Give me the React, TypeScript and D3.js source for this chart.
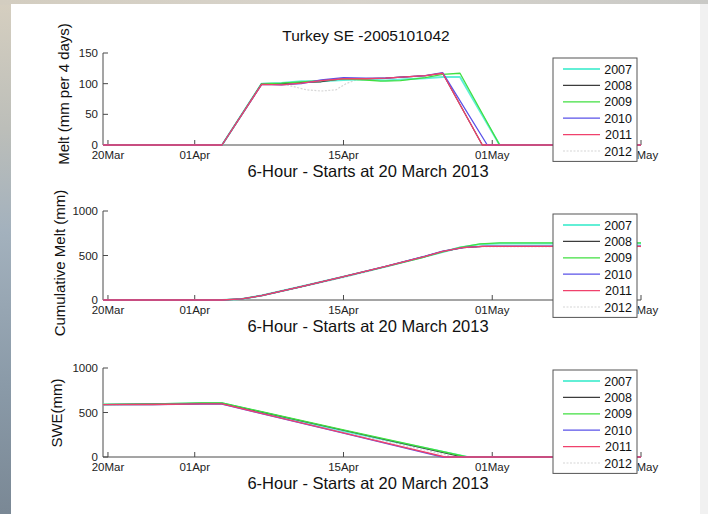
import React from "react";
import * as d3 from "d3";

// Series identity
const YEARS = ["2007", "2008", "2009", "2010", "2011", "2012"];
const COLORS = ["#62efd6", "#3c3c3c", "#40df40", "#5a52e8", "#f0416c", "#d6d6d6"];
const WIDTHS = [2, 1.1, 1.3, 1.3, 1.3, 1.2];
// 2012 is drawn first so it sits underneath the other years
const DRAW_ORDER = [5, 0, 1, 2, 3, 4];

// X axis: 6-hour steps from the start of the run
const X_DOMAIN = [0, 217];
const X_TICKS = [2, 37, 97, 157, 217];
const X_TICK_LABELS = ["20Mar", "01Apr", "15Apr", "01May", "15May"];

const TITLE = "Turkey SE -2005101042";
const X_TITLE = "6-Hour - Starts at 20 March 2013";

// Melt (mm per 4 days), [step, value]
const MELT_2007: [number, number][] = [[0, 0], [48, 0], [64, 100], [72, 101], [80, 104], [88, 104], [97, 106], [106, 107], [114, 105], [122, 107], [130, 109], [137, 111], [144, 111], [160, 0], [217, 0]];
const MELT_2008: [number, number][] = [[0, 0], [48, 0], [64, 100], [72, 100], [80, 102], [88, 103], [97, 108], [106, 108], [114, 109], [122, 111], [130, 113], [137, 117], [153, 0], [217, 0]];
const MELT_2009: [number, number][] = [[0, 0], [48, 0], [64, 100], [72, 101], [80, 103], [88, 105], [97, 108], [106, 106], [112, 104], [120, 105], [130, 110], [137, 115], [144, 117], [160, 0], [217, 0]];
const MELT_2010: [number, number][] = [[0, 0], [48, 0], [64, 99], [72, 98], [80, 100], [88, 106], [97, 110], [106, 109], [114, 109], [122, 111], [130, 113], [137, 118], [155, 0], [217, 0]];
const MELT_2011: [number, number][] = [[0, 0], [48, 0], [64, 99], [72, 98], [80, 101], [88, 105], [97, 108], [106, 108], [114, 109], [122, 111], [130, 113], [137, 117], [153, 0], [217, 0]];
const MELT_2012: [number, number][] = [[0, 0], [48, 0], [64, 99], [72, 100], [76, 96], [82, 90], [88, 88], [94, 90], [98, 100], [102, 106], [114, 109], [122, 111], [130, 113], [137, 117], [153, 0], [217, 0]];

// Cumulative melt (mm), [step, value]
const CUM_2007: [number, number][] = [[0, 0], [48, 0], [56, 12], [64, 50], [80, 152], [97, 262], [114, 375], [130, 488], [137, 540], [144, 590], [152, 625], [160, 636], [217, 636]];
const CUM_2008: [number, number][] = [[0, 0], [48, 0], [56, 12], [64, 50], [80, 150], [97, 262], [114, 376], [130, 490], [137, 545], [145, 588], [153, 603], [217, 603]];
const CUM_2009: [number, number][] = [[0, 0], [48, 0], [56, 12], [64, 50], [80, 151], [97, 262], [114, 374], [130, 486], [137, 540], [144, 592], [152, 630], [160, 641], [217, 641]];
const CUM_2010: [number, number][] = [[0, 0], [48, 0], [56, 12], [64, 49], [80, 150], [97, 263], [114, 378], [130, 492], [137, 548], [146, 592], [155, 606], [217, 606]];
const CUM_2011: [number, number][] = [[0, 0], [48, 0], [56, 12], [64, 49], [80, 150], [97, 262], [114, 377], [130, 491], [137, 546], [145, 588], [153, 602], [217, 602]];
const CUM_2012: [number, number][] = [[0, 0], [48, 0], [56, 12], [64, 49], [80, 146], [97, 252], [114, 370], [130, 486], [137, 541], [145, 585], [153, 600], [217, 600]];

// Snow water equivalent (mm), [step, value]
const SWE_2007: [number, number][] = [[0, 590], [20, 594], [40, 604], [48, 604], [97, 292], [147, 0], [217, 0]];
const SWE_2008: [number, number][] = [[0, 590], [20, 594], [40, 603], [48, 603], [97, 300], [145, 0], [217, 0]];
const SWE_2009: [number, number][] = [[0, 590], [20, 596], [40, 608], [48, 608], [97, 306], [147, 0], [217, 0]];
const SWE_2010: [number, number][] = [[0, 588], [20, 590], [40, 594], [48, 594], [97, 268], [137, 0], [217, 0]];
const SWE_2011: [number, number][] = [[0, 588], [20, 590], [40, 596], [48, 596], [97, 272], [138, 0], [217, 0]];
const SWE_2012: [number, number][] = [[0, 588], [20, 592], [40, 600], [48, 600], [97, 285], [142, 0], [217, 0]];

const MELT_TICKS = [0, 50, 100, 150];
const CUM_TICKS = [0, 500, 1000];
const SWE_TICKS = [0, 500, 1000];

const FONT = "'Liberation Sans', Arial, Helvetica, sans-serif";

type Panel = {
  yLabel: string;
  yMax: number;
  yTicks: number[];
  series: [number, number][][];
  base: number; // pixel row of the zero line
  top: number; // pixel row of yMax
  yLabelX: number;
  yLabelY: number;
  legendTop: number;
};

const PANELS: Panel[] = [
  {
    yLabel: "Melt (mm per 4 days)",
    yMax: 150,
    yTicks: MELT_TICKS,
    series: [MELT_2007, MELT_2008, MELT_2009, MELT_2010, MELT_2011, MELT_2012],
    base: 145,
    top: 53,
    yLabelX: 69,
    yLabelY: 94,
    legendTop: 58,
  },
  {
    yLabel: "Cumulative Melt (mm)",
    yMax: 1000,
    yTicks: CUM_TICKS,
    series: [CUM_2007, CUM_2008, CUM_2009, CUM_2010, CUM_2011, CUM_2012],
    base: 300,
    top: 211,
    yLabelX: 65,
    yLabelY: 263,
    legendTop: 214,
  },
  {
    yLabel: "SWE(mm)",
    yMax: 1000,
    yTicks: SWE_TICKS,
    series: [SWE_2007, SWE_2008, SWE_2009, SWE_2010, SWE_2011, SWE_2012],
    base: 457,
    top: 368,
    yLabelX: 62,
    yLabelY: 413,
    legendTop: 370,
  },
];

const X_LEFT = 103;
const X_RIGHT = 641;
const AXIS = "#4a4a4a";
const LEGEND_X0 = 553;
const LEGEND_X1 = 637;

function PanelView({ p, idx }: { p: Panel; idx: number }) {
  const x = d3.scaleLinear().domain(X_DOMAIN).range([X_LEFT, X_RIGHT]);
  const y = d3.scaleLinear().domain([0, p.yMax]).range([p.base, p.top]);
  const line = d3
    .line<[number, number]>()
    .x((d) => x(d[0]))
    .y((d) => y(d[1]));
  const rowH = 16.4;
  const lh = rowH * YEARS.length + 5;
  const clipId = `outsideLegend${idx}`;
  return (
    <g>
      <defs>
        {/* tick labels are hidden where the legend box sits over them */}
        <clipPath id={clipId}>
          <rect x={0} y={0} width={LEGEND_X0} height={514} />
          <rect x={LEGEND_X1 + 0.5} y={0} width={100} height={514} />
        </clipPath>
      </defs>
      {idx === 0 && (
        <text x={366} y={41} textAnchor="middle" fontSize={15.5} fill="#111">
          {TITLE}
        </text>
      )}
      {/* axes */}
      <line x1={X_LEFT} x2={X_LEFT} y1={y(p.yMax)} y2={p.base} stroke={AXIS} strokeWidth={1} />
      <line x1={X_LEFT} x2={X_RIGHT} y1={p.base} y2={p.base} stroke={AXIS} strokeWidth={1} />
      {p.yTicks.map((t) => (
        <g key={"yt" + t}>
          <line x1={X_LEFT} x2={X_LEFT + 5} y1={y(t)} y2={y(t)} stroke={AXIS} />
          <text x={X_LEFT - 5} y={y(t) + 4} textAnchor="end" fontSize={11.5} fill="#222">
            {t}
          </text>
        </g>
      ))}
      {X_TICKS.map((t, i) => (
        <g key={"xt" + t}>
          <line x1={x(t)} x2={x(t)} y1={p.base} y2={p.base - 5} stroke={AXIS} />
          <text
            x={x(t)}
            y={p.base + 14}
            textAnchor="middle"
            fontSize={11.5}
            fill="#222"
            clipPath={`url(#${clipId})`}
          >
            {X_TICK_LABELS[i]}
          </text>
        </g>
      ))}
      {/* series */}
      {DRAW_ORDER.map((i) => (
        <path
          key={"s" + i}
          d={line(p.series[i]) || ""}
          fill="none"
          stroke={COLORS[i]}
          strokeWidth={WIDTHS[i]}
          strokeDasharray={i === 5 ? "2 1.5" : undefined}
          strokeLinejoin="round"
        />
      ))}
      <text x={368} y={p.base + 32} textAnchor="middle" fontSize={16.5} fill="#111">
        {X_TITLE}
      </text>
      <text
        transform={`translate(${p.yLabelX},${p.yLabelY}) rotate(-90)`}
        textAnchor="middle"
        fontSize={15}
        fill="#111"
      >
        {p.yLabel}
      </text>
      {/* legend */}
      <rect
        x={LEGEND_X0}
        y={p.legendTop}
        width={LEGEND_X1 - LEGEND_X0}
        height={lh}
        fill="#fff"
        stroke="#555"
        strokeWidth={1}
      />
      {YEARS.map((yr, i) => {
        const cy = p.legendTop + 11 + i * rowH;
        return (
          <g key={"lg" + yr}>
            <line
              x1={563}
              x2={600}
              y1={cy}
              y2={cy}
              stroke={COLORS[i]}
              strokeWidth={WIDTHS[i]}
              strokeDasharray={i === 5 ? "2 1.5" : undefined}
            />
            <text x={632} y={cy + 4.5} textAnchor="end" fontSize={12.5} fill="#111">
              {yr}
            </text>
          </g>
        );
      })}
    </g>
  );
}

export default function App() {
  return (
    <svg
      width={708}
      height={514}
      style={{ position: "absolute", left: 0, top: 0, display: "block" }}
      fontFamily={FONT}
    >
      <defs>
        <linearGradient id="edgeLeft" x1="0" y1="0" x2="0" y2="1">
          <stop offset="0" stopColor="#d6cfc0" />
          <stop offset="0.25" stopColor="#bcbeb9" />
          <stop offset="0.45" stopColor="#a3b1bd" />
          <stop offset="0.75" stopColor="#8a9aa8" />
          <stop offset="1" stopColor="#7a8895" />
        </linearGradient>
        <linearGradient id="edgeTop" x1="0" y1="0" x2="1" y2="0">
          <stop offset="0" stopColor="#d3cdc0" />
          <stop offset="0.5" stopColor="#d8d4cc" />
          <stop offset="1" stopColor="#c9c9c6" />
        </linearGradient>
      </defs>
      <rect x={0} y={0} width={708} height={514} fill="url(#edgeLeft)" />
      <rect x={0} y={0} width={708} height={5} fill="url(#edgeTop)" />
      <rect x={11} y={4} width={697} height={510} fill="#ffffff" />
      <rect x={700} y={4} width={8} height={510} fill="#f1f1f1" />
      {PANELS.map((p, i) => (
        <PanelView key={i} p={p} idx={i} />
      ))}
    </svg>
  );
}
